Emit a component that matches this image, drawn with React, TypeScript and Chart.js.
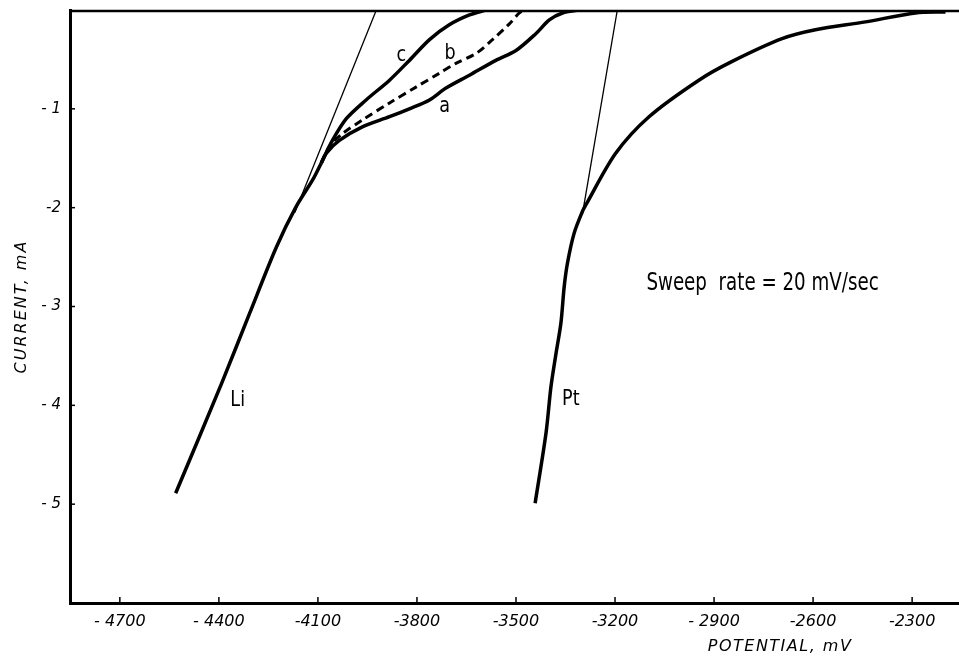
import { useEffect, useRef } from "react";
import { Chart, registerables } from "chart.js";

Chart.register(...registerables);

// ---- axis ticks ----
const xTickValues = [-4700, -4400, -4100, -3800, -3500, -3200, -2900, -2600, -2300];
const xTickLabels = ["- 4700", "- 4400", "-4100", "-3800", "-3500", "-3200", "- 2900", "-2600", "-2300"];
const yTickValues = [-1, -2, -3, -4, -5];
const yTickLabels = ["- 1", "-2", "- 3", "- 4", "- 5"];

// ---- Li electrode (common lower branch) ----
const liPotential = [-4531, -4392, -4307, -4226, -4166, -4116, -4090];
const liCurrent = [-4.89, -3.78, -3.07, -2.40, -1.99, -1.72, -1.55];

// ---- curve a (solid, lower) ----
const aPotential = [-4090, -4075, -4035, -3964, -3883, -3823, -3762, -3712, -3641, -3561, -3500, -3440, -3399, -3359, -3309];
const aCurrent = [-1.55, -1.45, -1.32, -1.18, -1.08, -1.0, -0.91, -0.79, -0.66, -0.51, -0.41, -0.24, -0.10, -0.03, 0];

// ---- curve b (dashed) ----
const bPotential = [-4090, -4065, -4025, -3964, -3883, -3803, -3732, -3682, -3621, -3571, -3520, -3490, -3475];
const bCurrent = [-1.55, -1.38, -1.25, -1.11, -0.94, -0.78, -0.64, -0.54, -0.44, -0.30, -0.14, -0.03, 0];

// ---- curve c (solid, upper) ----
const cPotential = [-4090, -4056, -4014, -3954, -3883, -3823, -3762, -3702, -3641, -3591];
const cCurrent = [-1.55, -1.32, -1.10, -0.91, -0.71, -0.51, -0.30, -0.15, -0.05, 0];

// ---- Pt electrode ----
const ptPotential = [-3442, -3409, -3394, -3379, -3364, -3354, -3344, -3324, -3299, -3288, -3198, -3097, -2946, -2845, -2694, -2593, -2441, -2290, -2199];
const ptCurrent = [-4.99, -4.28, -3.81, -3.48, -3.17, -2.80, -2.56, -2.26, -2.04, -1.97, -1.45, -1.08, -0.71, -0.52, -0.29, -0.20, -0.12, -0.03, -0.02];

// ---- thin tangent lines ----
const liTangentPotential = [-4170, -3923];
const liTangentCurrent = [-2.05, 0];
const ptTangentPotential = [-3299, -3193];
const ptTangentCurrent = [-2.07, 0];

// ---- text annotations (data coordinates) ----
const annotationTexts = ["c", "b", "a", "Li", "Pt"];
const annotationPotential = [-3847, -3700, -3716, -4343, -3334];
const annotationCurrent = [-0.455, -0.435, -0.972, -3.947, -3.937];
const sweepText = "Sweep  rate = 20 mV/sec";
const sweepPotential = -3105;
const sweepCurrent = -2.763;

const xTitle = "POTENTIAL, mV";
const yTitle = "CURRENT, mA";

const FONT = '"DejaVu Sans", sans-serif';

function zip(xs: number[], ys: number[]) {
  return xs.map((x, i) => ({ x, y: ys[i] }));
}

function narrowText(ctx: any, text: string, x: number, y: number, sx: number) {
  ctx.save();
  ctx.translate(x, y);
  ctx.scale(sx, 1);
  ctx.fillText(text, 0, 0);
  ctx.restore();
}

const decorPlugin = {
  id: "decor",
  beforeDraw(chart: any) {
    const ctx = chart.ctx;
    ctx.save();
    ctx.fillStyle = "#ffffff";
    ctx.fillRect(0, 0, chart.width, chart.height);
    ctx.restore();
  },
  afterDraw(chart: any) {
    const ctx = chart.ctx;
    const area = chart.chartArea;
    const xs = chart.scales.x;
    const ys = chart.scales.y;
    ctx.save();
    // top frame line
    ctx.strokeStyle = "#000";
    ctx.lineWidth = 2.5;
    ctx.beginPath();
    ctx.moveTo(area.left, area.top + 1);
    ctx.lineTo(area.right, area.top + 1);
    ctx.stroke();
    // inward tick marks
    ctx.lineWidth = 1.5;
    xTickValues.forEach((v) => {
      const px = xs.getPixelForValue(v);
      ctx.beginPath();
      ctx.moveTo(px, area.bottom);
      ctx.lineTo(px, area.bottom - 6);
      ctx.stroke();
    });
    yTickValues.forEach((v) => {
      const py = ys.getPixelForValue(v);
      ctx.beginPath();
      ctx.moveTo(area.left, py);
      ctx.lineTo(area.left + 5, py);
      ctx.stroke();
    });
    // annotations
    ctx.fillStyle = "#000";
    ctx.textAlign = "center";
    ctx.textBaseline = "middle";
    ctx.font = `22px ${FONT}`;
    annotationTexts.forEach((t, i) => {
      narrowText(ctx, t, xs.getPixelForValue(annotationPotential[i]), ys.getPixelForValue(annotationCurrent[i]), 0.8);
    });
    ctx.textAlign = "left";
    ctx.font = `25px ${FONT}`;
    narrowText(ctx, sweepText, xs.getPixelForValue(sweepPotential), ys.getPixelForValue(sweepCurrent), 0.73);
    // axis titles
    ctx.font = `italic 16px ${FONT}`;
    ctx.textAlign = "center";
    (ctx as any).letterSpacing = "1.5px";
    ctx.fillText(xTitle, xs.getPixelForValue(-2700), area.bottom + 44);
    ctx.translate(22, (area.top + area.bottom) / 2);
    ctx.rotate(-Math.PI / 2);
    (ctx as any).letterSpacing = "2px";
    ctx.fillText(yTitle, 0, 0);
    (ctx as any).letterSpacing = "0px";
    ctx.restore();
  },
};

export default function App() {
  const canvasRef = useRef<HTMLCanvasElement | null>(null);

  useEffect(() => {
    const canvas = canvasRef.current;
    if (!canvas) return;
    const thick = { borderColor: "#000", borderWidth: 3.5, pointRadius: 0, showLine: true, tension: 0.3, fill: false };
    const thin = { borderColor: "#000", borderWidth: 1.3, pointRadius: 0, showLine: true, tension: 0, fill: false };
    const chart = new Chart(canvas, {
      type: "scatter",
      data: {
        datasets: [
          { label: "Li", data: zip(liPotential, liCurrent), ...thick },
          { label: "a", data: zip(aPotential, aCurrent), ...thick },
          { label: "b", data: zip(bPotential, bCurrent), ...thick, borderWidth: 3, borderDash: [8, 5] },
          { label: "c", data: zip(cPotential, cCurrent), ...thick },
          { label: "Pt", data: zip(ptPotential, ptCurrent), ...thick },
          { label: "Li tangent", data: zip(liTangentPotential, liTangentCurrent), ...thin },
          { label: "Pt tangent", data: zip(ptTangentPotential, ptTangentCurrent), ...thin },
        ],
      },
      options: {
        responsive: false,
        animation: false,
        devicePixelRatio: 1,
        layout: { padding: { top: 10, right: 0, bottom: 0, left: 0 } },
        plugins: { legend: { display: false }, tooltip: { enabled: false } },
        scales: {
          x: {
            type: "linear",
            min: -4851,
            max: -2158,
            afterBuildTicks: (scale: any) => {
              scale.ticks = xTickValues.map((v) => ({ value: v }));
            },
            afterFit: (scale: any) => {
              scale.height = 53;
              scale.paddingLeft = 0;
              scale.paddingRight = 0;
            },
            grid: { display: false, drawTicks: false },
            border: { display: true, color: "#000", width: 3 },
            ticks: {
              color: "#000",
              padding: 9,
              maxRotation: 0,
              autoSkip: false,
              font: { family: FONT, style: "italic", size: 16 },
              callback: (v: any) => {
                const i = xTickValues.indexOf(Number(v));
                return i >= 0 ? xTickLabels[i] : "";
              },
            },
          },
          y: {
            type: "linear",
            min: -6,
            max: 0,
            afterBuildTicks: (scale: any) => {
              scale.ticks = yTickValues.map((v) => ({ value: v }));
            },
            afterFit: (scale: any) => {
              scale.width = 70;
              scale.paddingTop = 0;
              scale.paddingBottom = 0;
            },
            grid: { display: false, drawTicks: false },
            border: { display: true, color: "#000", width: 3 },
            ticks: {
              color: "#000",
              padding: 9,
              autoSkip: false,
              font: { family: FONT, style: "italic", size: 15 },
              callback: (v: any) => {
                const i = yTickValues.indexOf(Number(v));
                return i >= 0 ? yTickLabels[i] : "";
              },
            },
          },
        },
      },
      plugins: [decorPlugin],
    } as any);
    return () => chart.destroy();
  }, []);

  return (
    <div style={{ position: "fixed", left: 0, top: 0, width: 959, height: 656, background: "#fff" }}>
      <canvas ref={canvasRef} width={959} height={656} style={{ display: "block" }} />
    </div>
  );
}
